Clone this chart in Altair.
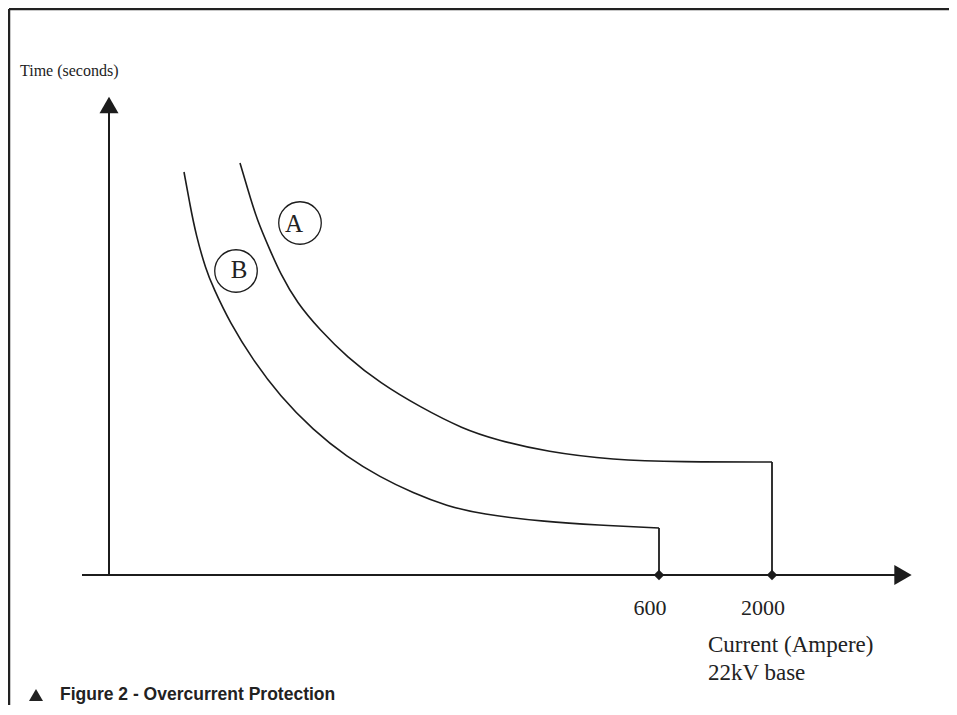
import altair as alt
import pandas as pd

# ---- data (units: 1 unit = 1 px, origin at axes intersection) ----
curve_a_x = [131, 139, 148, 161, 171, 188, 211, 238, 271, 311, 354, 388, 438, 504, 571, 663]
curve_a_y = [412, 385, 355, 325, 302, 272, 245, 218, 192, 168, 146, 135, 123, 115, 113, 113]
curve_b_x = [75, 81, 87, 97, 104, 121, 144, 171, 204, 238, 271, 304, 338, 371, 438, 488, 550]
curve_b_y = [403, 370, 340, 305, 288, 252, 215, 179, 145, 118, 98, 82, 69, 61, 53, 50, 47]

tick_values = [550, 663]
tick_labels = ["600", "2000"]
drop_tops = [47, 113]

curve_names = ["A", "B"]
label_x = [185, 130]
label_y = [343, 297]
circle_x = [191, 127]
circle_y = [352, 304]

x_axis_label = ["Current (Ampere)", "22kV base"]
y_axis_label = "Time (seconds)"
caption = "Figure 2 - Overcurrent Protection"

X_DOM = [-101, 840]
Y_DOM = [-130, 567]
INK = "#1c1c1c"

xs = alt.Scale(domain=X_DOM, nice=False, zero=False)
ys = alt.Scale(domain=Y_DOM, nice=False, zero=False)


def X(f="x"):
    return alt.X(f"{f}:Q", scale=xs, axis=None)


def Y(f="y"):
    return alt.Y(f"{f}:Q", scale=ys, axis=None)


rows = []
for i, (x, y) in enumerate(zip(curve_a_x, curve_a_y)):
    rows.append({"curve": "A", "i": i, "x": x, "y": y})
for i, (x, y) in enumerate(zip(curve_b_x, curve_b_y)):
    rows.append({"curve": "B", "i": i, "x": x, "y": y})
curves_df = pd.DataFrame(rows)

curves = alt.Chart(curves_df).mark_line(
    interpolate="basis", color=INK, strokeWidth=1.6
).encode(x=X(), y=Y(), detail="curve:N", order="i:Q")

drops_df = pd.DataFrame({"x": tick_values, "y": drop_tops, "y2": [0, 0]})
drops = alt.Chart(drops_df).mark_rule(color=INK, strokeWidth=1.8).encode(
    x=X(), y=Y(), y2="y2:Q"
)

dots = alt.Chart(pd.DataFrame({"x": tick_values, "y": [0, 0]})).mark_point(
    shape="diamond", filled=True, size=110, color=INK, opacity=1
).encode(x=X(), y=Y())

tick_text = alt.Chart(pd.DataFrame({"x": tick_values, "y": [0, 0], "t": tick_labels})).mark_text(
    font="Liberation Serif", fontSize=22, color="#222", align="center",
    baseline="alphabetic", dx=-9, dy=40
).encode(x=X(), y=Y(), text="t:N")

# axes
x_axis = alt.Chart(pd.DataFrame({"x": [-27], "x2": [792], "y": [0]})).mark_rule(
    color=INK, strokeWidth=2
).encode(x=X(), x2="x2:Q", y=Y())
y_axis = alt.Chart(pd.DataFrame({"x": [0], "y": [0], "y2": [468]})).mark_rule(
    color=INK, strokeWidth=2
).encode(x=X(), y=Y(), y2="y2:Q")
arrow_up = alt.Chart(pd.DataFrame({"x": [0], "y": [470]})).mark_point(
    shape="triangle-up", filled=True, size=361, color=INK, opacity=1
).encode(x=X(), y=Y())
arrow_right = alt.Chart(pd.DataFrame({"x": [794], "y": [0]})).mark_point(
    shape="triangle-right", filled=True, size=400, color=INK, opacity=1
).encode(x=X(), y=Y())

# frame (top and left edges)
frame_top = alt.Chart(pd.DataFrame({"x": [X_DOM[0] + 1], "x2": [X_DOM[1]], "y": [Y_DOM[1] - 1]})).mark_rule(
    color="#222", strokeWidth=2.5
).encode(x=X(), x2="x2:Q", y=Y())
frame_left = alt.Chart(pd.DataFrame({"x": [X_DOM[0] + 1], "y": [Y_DOM[1] - 1], "y2": [Y_DOM[0]]})).mark_rule(
    color="#222", strokeWidth=2.5
).encode(x=X(), y=Y(), y2="y2:Q")

# circled curve names
circles = alt.Chart(pd.DataFrame({"x": circle_x, "y": circle_y})).mark_point(
    shape="circle", filled=False, size=1810, color=INK, strokeWidth=1.3, opacity=1
).encode(x=X(), y=Y())
names = alt.Chart(pd.DataFrame({"x": label_x, "y": label_y, "t": curve_names})).mark_text(
    font="Liberation Serif", fontSize=25, color="#222", align="center", baseline="alphabetic"
).encode(x=X(), y=Y(), text="t:N")

# axis titles
ytitle = alt.Chart(pd.DataFrame({"x": [-89], "y": [499], "t": [y_axis_label]})).mark_text(
    font="Liberation Serif", fontSize=16, color="#222", align="left", baseline="alphabetic"
).encode(x=X(), y=Y(), text="t:N")
xtitle = alt.Chart(pd.DataFrame({"x": [599, 599], "y": [-77, -105], "t": x_axis_label})).mark_text(
    font="Liberation Serif", fontSize=23, color="#222", align="left", baseline="alphabetic"
).encode(x=X(), y=Y(), text="t:N")

# caption
cap_tri = alt.Chart(pd.DataFrame({"x": [-73], "y": [-120]})).mark_point(
    shape="triangle-up", filled=True, size=196, color="#222", opacity=1
).encode(x=X(), y=Y())
cap_text = alt.Chart(pd.DataFrame({"x": [-49], "y": [-125], "t": [caption]})).mark_text(
    font="Liberation Sans", fontWeight="bold", fontSize=17.5, color="#222",
    align="left", baseline="alphabetic"
).encode(x=X(), y=Y(), text="t:N")

chart = alt.layer(
    frame_top, frame_left, x_axis, y_axis, arrow_up, arrow_right, curves, drops, dots,
    tick_text, circles, names, ytitle, xtitle, cap_tri, cap_text
).properties(
    width=941, height=697, autosize=alt.AutoSizeParams(type="none"), padding=0,
    background="white"
).configure_view(strokeWidth=0, stroke="transparent")

chart.save("out.html", embed_options={"renderer": "svg", "actions": False})
